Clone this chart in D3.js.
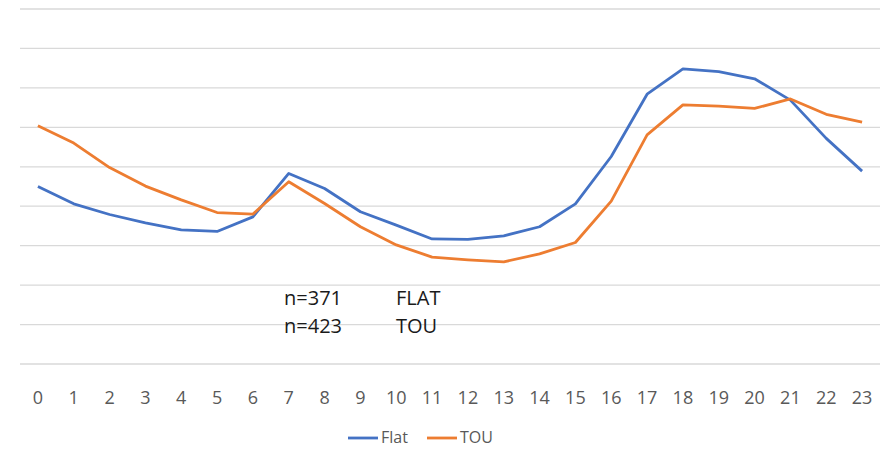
<!DOCTYPE html>
<html><head><meta charset="utf-8">
<script src="https://cdn.jsdelivr.net/npm/d3@7"></script>
<style>body{margin:0;background:#fff}svg{display:block}text{font-family:"Open Sans","Noto Sans",sans-serif}</style>
</head><body><svg id="c" width="896" height="450"></svg>
<script>
const hours = ["0","1","2","3","4","5","6","7","8","9","10","11","12","13","14","15","16","17","18","19","20","21","22","23"];
const flat = [4.50,4.06,3.79,3.58,3.40,3.36,3.73,4.83,4.45,3.86,3.52,3.17,3.16,3.25,3.48,4.06,5.26,6.84,7.48,7.41,7.23,6.69,5.72,4.89];
const tou  = [6.04,5.60,4.98,4.51,4.16,3.84,3.80,4.62,4.07,3.48,3.02,2.71,2.64,2.59,2.79,3.08,4.13,5.81,6.57,6.54,6.48,6.72,6.33,6.13];
const yTicks = [0,1,2,3,4,5,6,7,8,9];
const seriesNames = ["Flat","TOU"];
const colors = ["#4472C4","#ED7D31"];
const notes = [["n=371","FLAT"],["n=423","TOU"]];

const svg = d3.select("#c");
const x = d3.scaleBand().domain(hours).range([20,880]);
const y = d3.scaleLinear().domain([0,9]).range([364,9]);

svg.append("g").selectAll("line").data(yTicks).join("line")
  .attr("x1",20).attr("x2",880).attr("y1",d=>y(d)).attr("y2",d=>y(d))
  .attr("stroke","#d9d9d9").attr("stroke-width",1.3);

const xAxis = svg.append("g").attr("transform","translate(0,364)")
  .call(d3.axisBottom(x).tickSize(0));
xAxis.select(".domain").remove();
xAxis.selectAll("text").attr("y",40).attr("dy",0).attr("font-size",18).attr("fill","#595959")
  .style("font-family","'Open Sans',sans-serif");

const line = d3.line().x((d,i)=>x(hours[i])+x.bandwidth()/2).y(d=>y(d));
[flat,tou].forEach((s,k)=>{
  svg.append("path").datum(s).attr("d",line).attr("fill","none")
    .attr("stroke",colors[k]).attr("stroke-width",2.8).attr("stroke-linejoin","round");
});

notes.forEach((n,i)=>{
  svg.append("text").attr("x",284).attr("y",305+i*28).attr("font-size",20).attr("fill","#1a1a1a").text(n[0]);
  svg.append("text").attr("x",396).attr("y",305+i*28).attr("font-size",20).attr("fill","#1a1a1a").text(n[1]);
});

const lg = svg.append("g");
const lx = [348,427];
seriesNames.forEach((n,i)=>{
  lg.append("line").attr("x1",lx[i]).attr("x2",lx[i]+30).attr("y1",438).attr("y2",438)
    .attr("stroke",colors[i]).attr("stroke-width",2.8);
  lg.append("text").attr("x",lx[i]+33).attr("y",443).attr("font-size",16).attr("fill","#595959").text(n);
});
</script></body></html>
